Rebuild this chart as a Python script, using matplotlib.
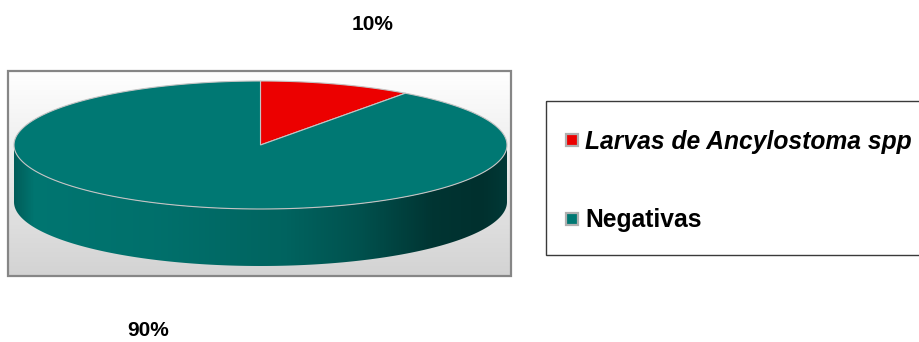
import numpy as np
import matplotlib.pyplot as plt
from matplotlib.patches import Polygon, Rectangle
from matplotlib.colors import LinearSegmentedColormap, to_rgb

# Datos
categorias = ['Larvas de Ancylostoma spp', 'Negativas']
valores = [10, 90]
colores = ['#ec0000', '#007873']
estilos = ['italic', 'normal']

W, H = 919, 342
fig = plt.figure(figsize=(W / 100, H / 100), dpi=100)
ax = fig.add_axes([0, 0, 1, 1])
fuente = 'Liberation Sans'

# Fondo del area de trazado (degradado blanco -> gris)
grad = np.linspace(0, 1, 256).reshape(-1, 1)
cm_fondo = LinearSegmentedColormap.from_list('fondo', ['#ffffff', '#d3d3d3'])
ax.imshow(grad, cmap=cm_fondo, extent=[8, 511, 276, 71], aspect='auto', zorder=0)
ax.add_patch(Rectangle((8, 71), 503, 205, fill=False, edgecolor='#868686', lw=1.6, zorder=6))

# Geometria del pastel 3D
cx, cy, a, b, h = 260.5, 145, 246.5, 64, 57
total = sum(valores)
angulos = []
inicio = 90.0
for v in valores:
    fin = inicio - v / total * 360
    angulos.append((inicio, fin))
    inicio = fin

# sombreado del lateral (factor sobre el color base, de izquierda a derecha)
sombra = [(0.0, 0.78), (0.04, 0.98), (0.3, 0.93), (0.55, 0.83),
          (0.7, 0.68), (0.85, 0.44), (0.95, 0.40), (1.0, 0.47)]

# Lateral frontal
for (t1, t2), col in zip(angulos, colores):
    for lo, hi in [(-180, 0), (180, 360), (-540, -360)]:
        a1, a2 = max(t2, lo), min(t1, hi)
        if a2 <= a1:
            continue
        t = np.radians(np.linspace(a2, a1, 200))
        xs = cx + a * np.cos(t)
        ys = cy - b * np.sin(t)
        pts = np.vstack([np.column_stack([xs, ys]), np.column_stack([xs, ys + h])[::-1]])
        lado = Polygon(pts, closed=True, facecolor='none', edgecolor='none', zorder=2)
        ax.add_patch(lado)
        base = np.array(to_rgb(col))
        cm_lado = LinearSegmentedColormap.from_list(
            'lado', [(p, tuple(base * f)) for p, f in sombra])
        img = ax.imshow(np.linspace(0, 1, 512).reshape(1, -1), cmap=cm_lado,
                        extent=[cx - a, cx + a, cy + b + h, cy], aspect='auto', zorder=2)
        img.set_clip_path(lado)

# Cara superior
for (t1, t2), col in zip(angulos, colores):
    t = np.radians(np.linspace(t1, t2, 200))
    xs = cx + a * np.cos(t)
    ys = cy - b * np.sin(t)
    pts = np.vstack([[cx, cy], np.column_stack([xs, ys])])
    ax.add_patch(Polygon(pts, closed=True, facecolor=col, edgecolor='#c4c4c4', lw=0.8, zorder=3))

# Etiquetas de porcentaje
pos_etiquetas = [(373, 30), (148, 336)]
for v, (x, y) in zip(valores, pos_etiquetas):
    ax.text(x, y, f'{v / total * 100:.0f}%', ha='center', va='baseline',
            fontsize=15, fontweight='bold', family=fuente, zorder=7)

# Leyenda
ax.add_patch(Rectangle((546, 101), 400, 154, fill=False, edgecolor='#3a3a3a', lw=1.0, zorder=6))
ley_y = [140, 218.5]
for cat, col, est, y in zip(categorias, colores, estilos, ley_y):
    ax.add_patch(Rectangle((566, y - 6), 12, 12, facecolor=col, edgecolor='#b0b0b0', lw=1.6, zorder=7))
    ax.text(585, y + 9, cat, ha='left', va='baseline', fontsize=17.7, fontweight='bold',
            fontstyle=est, family=fuente, zorder=7)

ax.set_xlim(0, W)
ax.set_ylim(H, 0)
ax.axis('off')
fig.savefig('out.png', dpi=100)
